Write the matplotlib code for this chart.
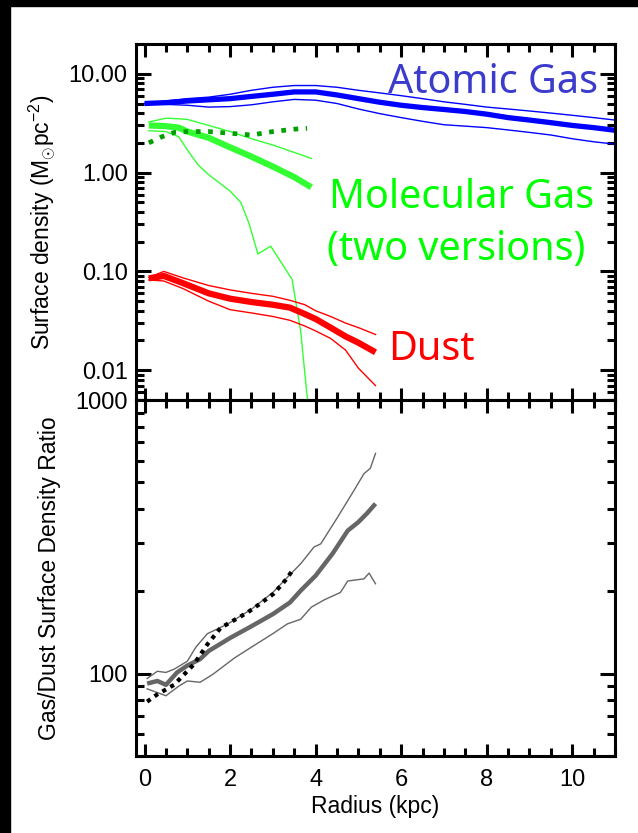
import numpy as np
import matplotlib
matplotlib.use("Agg")
import matplotlib.pyplot as plt
from matplotlib.ticker import FixedLocator, FixedFormatter, MultipleLocator, LogLocator, NullFormatter
from matplotlib.patches import Rectangle

plt.rcParams['font.family'] = ['Liberation Sans', 'DejaVu Sans']
plt.rcParams['mathtext.fontset'] = 'custom'
plt.rcParams['mathtext.rm'] = 'Liberation Sans'
plt.rcParams['mathtext.it'] = 'Liberation Sans:italic'

# ---------------- data: top panel (surface densities) ----------------
hi_r = [0, 0.5, 1, 1.5, 2, 2.5, 3, 3.5, 4, 4.5, 5, 5.5, 6, 6.5, 7, 7.5, 8, 8.5, 9, 9.5, 10, 10.5, 11]
hi_mid = [5.0, 5.1, 5.3, 5.45, 5.6, 5.9, 6.2, 6.55, 6.55, 6.1, 5.6, 5.15, 4.8, 4.55, 4.35, 4.15, 3.9, 3.6, 3.4, 3.2, 3.0, 2.85, 2.68]
hi_hi = [5.0, 5.3, 5.6, 5.8, 6.2, 6.8, 7.3, 7.6, 7.6, 7.3, 6.8, 6.4, 6.0, 5.6, 5.2, 4.9, 4.6, 4.4, 4.2, 4.0, 3.8, 3.6, 3.4]
hi_lo = [5.0, 4.9, 4.8, 4.6, 4.65, 4.85, 5.2, 5.5, 5.4, 5.0, 4.4, 3.95, 3.6, 3.3, 3.05, 2.95, 2.85, 2.7, 2.55, 2.4, 2.2, 2.05, 1.94]

h2_r = [0.1, 0.5, 0.8, 1.0, 1.5, 2.0, 2.5, 3.0, 3.5, 3.9]
h2_mid = [3.0, 2.95, 2.85, 2.6, 2.25, 1.8, 1.45, 1.15, 0.9, 0.71]
h2_hi = [3.25, 3.55, 3.5, 3.45, 3.0, 2.6, 2.2, 1.9, 1.6, 1.39]

h2b_r = [0.1, 0.5, 0.8, 1.0, 1.25, 1.5, 2.0, 2.25, 2.45, 2.65, 2.95, 3.45, 3.65, 3.8, 3.85]
h2b_v = [2.65, 2.6, 2.3, 1.7, 1.2, 0.95, 0.65, 0.5, 0.3, 0.15, 0.18, 0.083, 0.025, 0.0055, 0.004]

h2c_r = [0.1, 0.4, 0.7, 1.0, 1.5, 2.0, 2.5, 3.0, 3.5, 3.8]
h2c_v = [2.0, 2.3, 2.55, 2.6, 2.6, 2.5, 2.4, 2.6, 2.75, 2.8]

dust_r = [0.1, 0.45, 0.9, 1.5, 2.0, 2.5, 3.0, 3.4, 3.75, 4.0, 4.35, 4.7, 5.0, 5.4]
dust_mid = [0.085, 0.09, 0.076, 0.06, 0.053, 0.049, 0.046, 0.043, 0.037, 0.033, 0.027, 0.022, 0.019, 0.0152]
dust_hi = [0.087, 0.1, 0.086, 0.072, 0.065, 0.06, 0.056, 0.051, 0.046, 0.04, 0.035, 0.03, 0.027, 0.023]
dust_lo = [0.082, 0.08, 0.067, 0.05, 0.041, 0.038, 0.035, 0.032, 0.028, 0.025, 0.021, 0.016, 0.0105, 0.007]

# ---------------- data: bottom panel (gas/dust ratio) ----------------
gdr_r = [0.06, 0.3, 0.5, 0.76, 1.0, 1.3, 1.5, 2.0, 2.5, 3.0, 3.4, 3.65, 4.0, 4.4, 4.75, 5.0, 5.2, 5.4]
gdr_mid = [92, 94, 91, 101, 107, 113, 121, 135, 149, 165, 182, 201, 228, 275, 333, 358, 385, 418]

gdr_hi_r = [0.06, 0.3, 0.5, 0.7, 1.0, 1.2, 1.47, 1.95, 2.5, 3.0, 3.34, 3.65, 3.96, 4.12, 4.5, 4.9, 5.13, 5.28, 5.4]
gdr_hi = [96, 102, 101, 104, 111, 125, 140, 152, 172, 198, 225, 252, 290, 298, 370, 468, 538, 563, 638]

gdr_lo_r = [0.06, 0.5, 0.8, 1.0, 1.3, 1.6, 2.1, 2.5, 3.0, 3.34, 3.65, 3.9, 4.2, 4.58, 4.75, 5.13, 5.25, 5.4]
gdr_lo = [88, 83, 90, 94, 93, 99.5, 114, 125, 140, 152, 158, 175, 186, 198, 218, 222, 233, 213]

gdr2_r = [0.06, 0.3, 0.69, 1.15, 1.47, 1.78, 2.1, 2.4, 2.7, 3.02, 3.3, 3.49]
gdr2_v = [79, 84, 91, 108, 128, 147, 157, 167, 180, 196, 220, 242]

# ---------------- figure ----------------
W, H = 638, 833
fig = plt.figure(figsize=(W / 100, H / 100), dpi=100)
fig.patch.set_facecolor('white')
fig.patches.append(Rectangle((0, 0), 10 / W, 1, transform=fig.transFigure, color='black', zorder=0))
fig.patches.append(Rectangle((0, 1 - 6 / H), 1, 6 / H, transform=fig.transFigure, color='black', zorder=0))

L, R = 136, 615
ax1 = fig.add_axes([L / W, (H - 400) / H, (R - L) / W, 356 / H])
ax2 = fig.add_axes([L / W, (H - 756) / H, (R - L) / W, 356 / H])

BLUE = '#0000ff'
GREEN = '#33ff33'
DKGREEN = '#00a000'
RED = '#ff0000'
GRAY = '#666666'

# top panel curves
ax1.plot(hi_r, hi_hi, color=BLUE, lw=1.0)
ax1.plot(hi_r, hi_lo, color=BLUE, lw=1.0)
ax1.plot(hi_r, hi_mid, color=BLUE, lw=3.8, solid_capstyle='butt')
ax1.plot(h2_r, h2_hi, color=GREEN, lw=1.0)
ax1.plot(h2b_r, h2b_v, color=GREEN, lw=1.0)
ax1.plot(h2_r, h2_mid, color=GREEN, lw=4.5, solid_capstyle='butt')
ax1.plot(h2c_r, h2c_v, color=DKGREEN, lw=3.4, dashes=(1, 1.6), dash_capstyle='butt')
ax1.plot(dust_r, dust_hi, color=RED, lw=1.0)
ax1.plot(dust_r, dust_lo, color=RED, lw=1.0)
ax1.plot(dust_r, dust_mid, color=RED, lw=4.5, solid_capstyle='butt')

ax1.set_yscale('log')
ax1.set_ylim(0.005, 20)
ax1.set_xlim(-0.2, 11)

# bottom panel curves
ax2.plot(gdr_hi_r, gdr_hi, color=GRAY, lw=1.0)
ax2.plot(gdr_lo_r, gdr_lo, color=GRAY, lw=1.0)
ax2.plot(gdr_r, gdr_mid, color=GRAY, lw=3.2, solid_capstyle='butt')
ax2.plot(gdr2_r, gdr2_v, color='black', lw=3.0, dashes=(1, 1.2), dash_capstyle='butt')

ax2.set_yscale('log')
ax2.set_ylim(50, 1000)
ax2.set_xlim(-0.2, 11)

for ax in (ax1, ax2):
    for s in ax.spines.values():
        s.set_linewidth(2.2)
    ax.xaxis.set_major_locator(MultipleLocator(2))
    ax.xaxis.set_minor_locator(MultipleLocator(0.5))
    ax.yaxis.set_minor_locator(LogLocator(base=10, subs=np.arange(2, 10)))
    ax.yaxis.set_minor_formatter(NullFormatter())
    ax.tick_params(which='both', direction='in', top=True, right=True, width=2.2,
                   labelsize=17, pad=6)
    ax.tick_params(which='major', length=11)
    ax.tick_params(which='minor', length=5.5)
    ax.tick_params(axis='x', which='major', length=9, pad=9)

ax1.yaxis.set_major_locator(FixedLocator([0.01, 0.1, 1, 10]))
ax1.yaxis.set_major_formatter(FixedFormatter(['0.01', '0.10', '1.00', '10.00']))
ax1.tick_params(axis='x', labelbottom=False)
ax2.yaxis.set_major_locator(FixedLocator([100, 1000]))
ax2.yaxis.set_major_formatter(FixedFormatter(['100', '1000']))

ax1.set_ylabel(r'Surface density (M$_{\odot}$pc$^{-2}$)', fontsize=16.5, labelpad=8)
ax2.set_ylabel('Gas/Dust Surface Density Ratio', fontsize=16.5, labelpad=10)
ax2.set_xlabel('Radius (kpc)', fontsize=16.5, labelpad=3)

# annotations
big = dict(family=['Noto Sans', 'DejaVu Sans'], fontsize=28.5)
ax1.text(598 / W, (H - 93) / H, 'Atomic Gas', color='#3b3bcc', ha='right', va='baseline',
         transform=fig.transFigure, **big)
ax1.text(329 / W, (H - 208) / H, 'Molecular Gas', color='#00ff00', ha='left', va='baseline',
         transform=fig.transFigure, **big)
ax1.text(327 / W, (H - 260) / H, '(two versions)', color='#00ff00', ha='left', va='baseline',
         transform=fig.transFigure, **big)
ax1.text(388 / W, (H - 360) / H, 'Dust', color=RED, ha='left', va='baseline',
         transform=fig.transFigure, **big)

fig.savefig('out.png', dpi=100, facecolor=fig.get_facecolor())
